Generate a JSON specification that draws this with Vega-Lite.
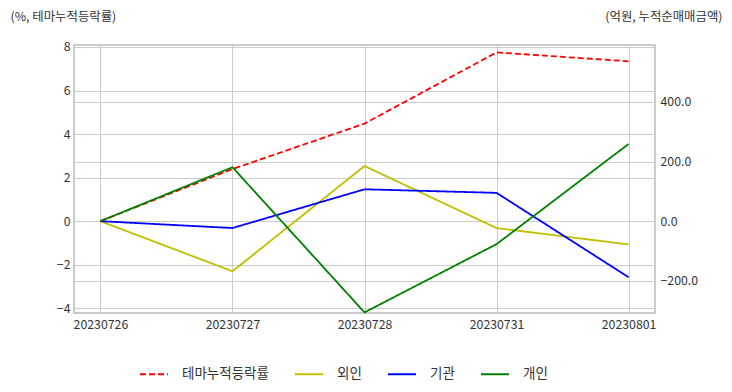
{
  "$schema": "https://vega.github.io/schema/vega-lite/v6.json",
  "width": 581,
  "height": 268,
  "autosize": {"type": "none"},
  "padding": {"left": 74, "top": 45, "right": 77, "bottom": 79},
  "background": "white",
  "config": {
    "font": "Noto Sans CJK KR",
    "view": {"stroke": "#cccccc", "strokeWidth": 2},
    "axis": {
      "gridColor": "#cccccc",
      "gridWidth": 1,
      "ticks": false,
      "domain": false,
      "labelFontSize": 12.3,
      "labelColor": "#333333",
      "titleFontWeight": "normal",
      "titleFontSize": 12.4,
      "titleColor": "#333333"
    }
  },
  "data": {
    "values": [
      {"date": "20230726", "series": "테마누적등락률", "value": 0},
      {"date": "20230727", "series": "테마누적등락률", "value": 2.39},
      {"date": "20230728", "series": "테마누적등락률", "value": 4.48},
      {"date": "20230731", "series": "테마누적등락률", "value": 7.75},
      {"date": "20230801", "series": "테마누적등락률", "value": 7.34},
      {"date": "20230726", "series": "외인", "value": 0},
      {"date": "20230727", "series": "외인", "value": -168},
      {"date": "20230728", "series": "외인", "value": 185},
      {"date": "20230731", "series": "외인", "value": -23},
      {"date": "20230801", "series": "외인", "value": -78},
      {"date": "20230726", "series": "기관", "value": 0},
      {"date": "20230727", "series": "기관", "value": -23},
      {"date": "20230728", "series": "기관", "value": 107},
      {"date": "20230731", "series": "기관", "value": 95},
      {"date": "20230801", "series": "기관", "value": -188},
      {"date": "20230726", "series": "개인", "value": 0},
      {"date": "20230727", "series": "개인", "value": 181},
      {"date": "20230728", "series": "개인", "value": -306},
      {"date": "20230731", "series": "개인", "value": -77},
      {"date": "20230801", "series": "개인", "value": 259}
    ]
  },
  "encoding": {
    "x": {
      "field": "date",
      "type": "ordinal",
      "scale": {"type": "point", "padding": 0.2},
      "axis": {"title": null, "labelAngle": 0, "grid": true, "labelPadding": 5}
    },
    "color": {
      "field": "series",
      "type": "nominal",
      "scale": {
        "domain": ["테마누적등락률", "외인", "기관", "개인"],
        "range": ["#ff0000", "#bfbf00", "#0000ff", "#008000"]
      },
      "legend": {
        "orient": "none",
        "legendX": 65,
        "legendY": 314,
        "direction": "horizontal",
        "title": null,
        "symbolType": "stroke",
        "symbolSize": 784,
        "symbolStrokeWidth": 2,
        "labelFontSize": 13.5,
        "labelColor": "#333333",
        "labelOffset": 13,
        "columnPadding": 22
      }
    },
    "strokeDash": {
      "field": "series",
      "type": "nominal",
      "scale": {
        "domain": ["테마누적등락률", "외인", "기관", "개인"],
        "range": [[6, 3], [1, 0], [1, 0], [1, 0]]
      },
      "legend": {
        "orient": "none",
        "legendX": 65,
        "legendY": 314,
        "direction": "horizontal",
        "title": null,
        "symbolType": "stroke",
        "symbolSize": 784,
        "symbolStrokeWidth": 2,
        "labelFontSize": 13.5,
        "labelColor": "#333333",
        "labelOffset": 13,
        "columnPadding": 22
      }
    }
  },
  "layer": [
    {
      "transform": [{"filter": "datum.series === '테마누적등락률'"}],
      "mark": {"type": "line", "strokeWidth": 1.8},
      "encoding": {
        "y": {
          "field": "value",
          "type": "quantitative",
          "scale": {"domain": [-4.22, 8.09], "nice": false, "zero": false},
          "axis": {
            "values": [-4, -2, 0, 2, 4, 6, 8],
            "title": "(%, 테마누적등락률)",
            "titleAngle": 0,
            "titleAlign": "left",
            "titleBaseline": "middle",
            "titleX": -64,
            "titleY": -29,
            "labelPadding": 4,
            "grid": true
          }
        }
      }
    },
    {
      "transform": [{"filter": "datum.series !== '테마누적등락률'"}],
      "mark": {"type": "line", "strokeWidth": 1.8},
      "encoding": {
        "y": {
          "field": "value",
          "type": "quantitative",
          "scale": {"domain": [-308, 591], "nice": false, "zero": false},
          "axis": {
            "orient": "right",
            "values": [-200, 0, 200, 400],
            "format": ".1f",
            "title": "(억원, 누적순매매금액)",
            "titleAngle": 0,
            "titleAlign": "right",
            "titleBaseline": "middle",
            "titleX": 67,
            "titleY": -29,
            "labelPadding": 5,
            "grid": true
          }
        }
      }
    }
  ],
  "resolve": {"scale": {"y": "independent"}}
}
